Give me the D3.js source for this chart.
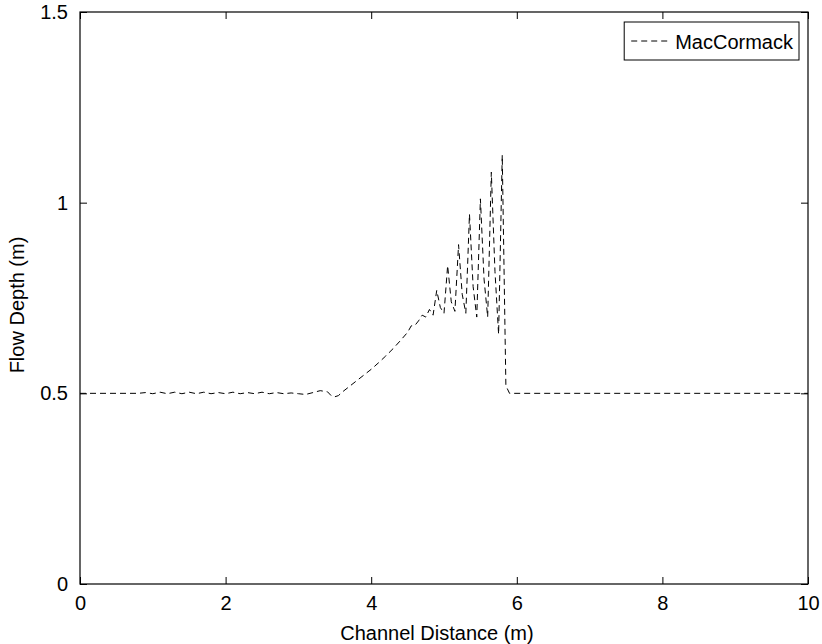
<!DOCTYPE html>
<html>
<head>
<meta charset="utf-8">
<script src="https://cdn.jsdelivr.net/npm/d3@7"></script>
<style>
  html, body { margin: 0; padding: 0; background: #fff; }
  svg { display: block; }
  text { font-family: "Liberation Sans", Arial, Helvetica, sans-serif; fill: #000; }
</style>
</head>
<body>
<div id="chart"></div>
<script>
// ---- data (MacCormack flow depth profile) ----
const distance = [
  0, 0.8, 0.9, 1.0, 1.1, 1.2, 1.3, 1.4, 1.5, 1.6, 1.7, 1.8, 1.9, 2.0,
  2.1, 2.2, 2.3, 2.4, 2.5, 2.6, 2.7, 2.8, 2.9, 3.0, 3.1, 3.2, 3.3, 3.4,
  3.45, 3.5, 3.55, 3.6, 3.7, 3.8, 3.9, 4.0, 4.1, 4.2, 4.3, 4.4, 4.5,
  4.55, 4.6, 4.65, 4.7, 4.75, 4.8, 4.85, 4.9, 4.95, 5.0, 5.05, 5.1, 5.15,
  5.2, 5.25, 5.3, 5.35, 5.4, 5.45, 5.5, 5.55, 5.6, 5.65, 5.7, 5.75, 5.8,
  5.85, 5.9, 10
];
const depth = [
  0.5, 0.5, 0.502, 0.499, 0.503, 0.499, 0.503, 0.499, 0.503, 0.499, 0.503, 0.499, 0.502, 0.499,
  0.503, 0.499, 0.502, 0.499, 0.503, 0.499, 0.502, 0.499, 0.501, 0.499, 0.497, 0.502, 0.507, 0.504,
  0.494, 0.491, 0.494, 0.503, 0.518, 0.533, 0.548, 0.563, 0.58, 0.598, 0.617, 0.638, 0.66,
  0.677, 0.678, 0.69, 0.705, 0.70, 0.72, 0.705, 0.77, 0.725, 0.71, 0.835, 0.74, 0.715,
  0.89, 0.76, 0.71, 0.97, 0.78, 0.70, 1.01, 0.80, 0.70, 1.08, 0.82, 0.655, 1.125,
  0.52, 0.50, 0.50
];
const xTicks = [0, 2, 4, 6, 8, 10];
const yTicks = [0, 0.5, 1, 1.5];
const seriesName = 'MacCormack';
const xLabel = 'Channel Distance (m)';
const yLabel = 'Flow Depth (m)';

const W = 822, H = 644;
const m = { left: 80, right: 14, top: 12, bottom: 60 };
const iw = W - m.left - m.right;   // 728
const ih = H - m.top - m.bottom;   // 572
const FS = 20;
const TICK = 7;
const DASH = '6,4';

const svg = d3.select('#chart').append('svg')
  .attr('width', W).attr('height', H);

const x = d3.scaleLinear().domain([0, 10]).range([m.left, m.left + iw]);
const y = d3.scaleLinear().domain([0, 1.5]).range([m.top + ih, m.top]);

// data line
const line = d3.line().x((d, i) => x(distance[i])).y(d => y(d));
svg.append('path')
  .datum(depth)
  .attr('d', line)
  .attr('fill', 'none')
  .attr('stroke', '#000')
  .attr('stroke-width', 1)
  .attr('stroke-dasharray', DASH);

// axes: ticks point inward on all four sides (matlab box on)
function styleAxis(g) {
  g.selectAll('.domain').remove();
  g.selectAll('.tick line').attr('stroke', '#000').attr('stroke-width', 1);
  g.selectAll('.tick text').attr('font-size', FS).attr('font-family', null);
}
const fmt = d => String(d);

svg.append('g')
  .attr('transform', `translate(0,${m.top + ih})`)
  .call(d3.axisBottom(x).tickValues(xTicks).tickFormat(fmt).tickSizeInner(-TICK).tickSizeOuter(0).tickPadding(12))
  .call(styleAxis);
svg.append('g')
  .attr('transform', `translate(0,${m.top})`)
  .call(d3.axisTop(x).tickValues(xTicks).tickFormat('').tickSizeInner(-TICK).tickSizeOuter(0))
  .call(styleAxis);
svg.append('g')
  .attr('transform', `translate(${m.left},0)`)
  .call(d3.axisLeft(y).tickValues(yTicks).tickFormat(fmt).tickSizeInner(-TICK).tickSizeOuter(0).tickPadding(12))
  .call(styleAxis);
svg.append('g')
  .attr('transform', `translate(${m.left + iw},0)`)
  .call(d3.axisRight(y).tickValues(yTicks).tickFormat('').tickSizeInner(-TICK).tickSizeOuter(0))
  .call(styleAxis);

// box
svg.append('rect')
  .attr('x', m.left).attr('y', m.top)
  .attr('width', iw).attr('height', ih)
  .attr('fill', 'none').attr('stroke', '#000').attr('stroke-width', 1.2);

// axis labels
svg.append('text')
  .attr('x', m.left + iw / 2 - 7).attr('y', H - 4)
  .attr('text-anchor', 'middle')
  .attr('font-size', FS)
  .text(xLabel);
svg.append('text')
  .attr('transform', `translate(24,${m.top + ih / 2 + 7}) rotate(-90)`)
  .attr('text-anchor', 'middle')
  .attr('font-size', FS)
  .text(yLabel);

// legend
const lg = svg.append('g');
const lgText = lg.append('text')
  .attr('font-size', FS)
  .attr('dominant-baseline', 'central')
  .text(seriesName);
const tw = lgText.node().getComputedTextLength();
const lgRight = m.left + iw - 9, lgTop = 22, lgH = 38;
const lineLen = 38, padL = 7, gap = 6, padR = 6;
const lgW = padL + lineLen + gap + tw + padR;
const lgLeft = lgRight - lgW;
lg.insert('rect', 'text')
  .attr('x', lgLeft).attr('y', lgTop)
  .attr('width', lgW).attr('height', lgH)
  .attr('fill', '#fff').attr('stroke', '#000').attr('stroke-width', 1);
lg.append('line')
  .attr('x1', lgLeft + padL).attr('x2', lgLeft + padL + lineLen)
  .attr('y1', lgTop + lgH / 2).attr('y2', lgTop + lgH / 2)
  .attr('stroke', '#000').attr('stroke-width', 1)
  .attr('stroke-dasharray', DASH);
lgText.attr('x', lgLeft + padL + lineLen + gap).attr('y', lgTop + lgH / 2 + 1);
</script>
</body>
</html>
